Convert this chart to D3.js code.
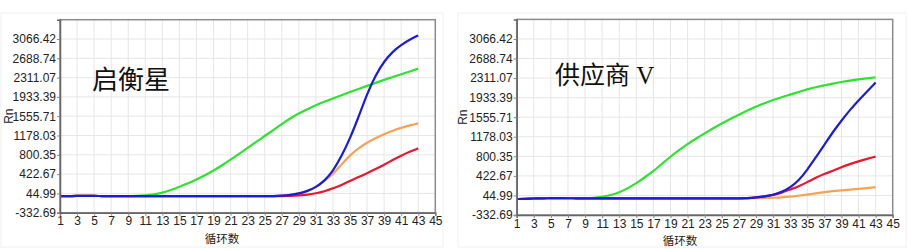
<!DOCTYPE html>
<html>
<head>
<meta charset="utf-8">
<script src="https://cdn.jsdelivr.net/npm/d3@7"></script>
<style>
  body { margin: 0; background: #fff; }
  svg { display: block; }
  .tick text { font-family: "Liberation Sans", Arial, sans-serif; font-size: 12px; fill: #222; }
</style>
</head>
<body>
<svg id="chart" width="907" height="250"></svg>
<script>
const cycles = d3.range(1, 44);
const xTicks = d3.range(1, 46, 2);
const yTicks = [-332.69, 44.99, 422.67, 800.35, 1178.03, 1555.71, 1933.39, 2311.07, 2688.74, 3066.42];

// 启衡星
const qhxBase = [-10, -8, -5, -4, -5, -7, -9, -10, -10, -10, -10, -10, -10, -10, -10, -10, -10, -10, -10, -10, -10, -10, -10, -10, -10, -10];
const qhxGreen = [-10, -8, -5, -4, -5, -7, -9, -10, -9, -5, 5, 25, 58, 110, 172, 242, 318, 400, 490, 595, 705, 818, 935, 1052, 1168, 1285, 1400, 1515, 1610, 1695, 1770, 1838, 1903, 1966, 2028, 2089, 2149, 2208, 2266, 2323, 2378, 2432, 2485];
const qhxBlue = qhxBase.concat([0, 15, 40, 90, 165, 290, 480, 770, 1120, 1540, 1990, 2360, 2630, 2820, 2950, 3055, 3137]);
const qhxOrange = qhxBase.concat([0, 15, 40, 90, 165, 290, 420, 610, 790, 930, 1040, 1125, 1205, 1270, 1330, 1378, 1415]);
const qhxRed = qhxBase.concat([-8, -5, 5, 20, 45, 85, 143, 209, 287, 365, 440, 520, 605, 700, 785, 860, 926]);

// 供应商 V
const supBase = [-25, -20, -14, -10, -8, -8, -9, -10, -10, -10, -11, -11, -11, -11, -11, -11, -11, -11, -11, -11, -11, -11, -11, -11, -11, -11, -11, -10];
const supGreen = [-25, -20, -14, -10, -8, -8, -9, -10, -9, -5, 15, 50, 100, 185, 280, 395, 515, 655, 794, 920, 1038, 1145, 1244, 1342, 1437, 1522, 1605, 1685, 1759, 1825, 1888, 1942, 1991, 2044, 2094, 2135, 2171, 2205, 2236, 2262, 2287, 2307, 2326];
const supBlue = supBase.concat([5, 25, 54, 110, 200, 330, 540, 780, 1020, 1270, 1490, 1695, 1880, 2055, 2223]);
const supRed = supBase.concat([5, 25, 54, 95, 160, 220, 300, 390, 460, 520, 590, 650, 705, 752, 794]);
const supOrange = supBase.concat([-8, -5, 0, 8, 20, 38, 60, 85, 110, 128, 144, 157, 170, 186, 202]);

const colors = { green: "#2ee32e", orange: "#f7a255", red: "#e8172f", blue: "#1b1bd8" };

const panels = [
  { title: "启衡星", frame: [1, 13, 442, 234], plot: [60, 19.7, 435.3, 212.7], titleX: 92, titleY: 89, titleSize: 26,
    rnX: 9, xlabX: 222, xlabY: 243,
    series: [["green", qhxGreen], ["orange", qhxOrange], ["red", qhxRed], ["blue", qhxBlue]] },
  { title: "供应商 V", frame: [458, 13, 448, 234], plot: [516.7, 19.4, 892.7, 215], titleX: 555, titleY: 84, titleSize: 25,
    rnX: 463, xlabX: 680, xlabY: 245,
    series: [["green", supGreen], ["orange", supOrange], ["red", supRed], ["blue", supBlue]] }
];

const svg = d3.select("#chart");

panels.forEach(p => {
  const [l, t, r, b] = p.plot;
  const g = svg.append("g");

  g.append("rect")
    .attr("x", p.frame[0]).attr("y", p.frame[1])
    .attr("width", p.frame[2]).attr("height", p.frame[3])
    .attr("fill", "none").attr("stroke", "#f0f0f0");

  const x = d3.scaleLinear().domain([1, 45]).range([l, r]);
  const y = d3.scaleLinear().domain([-332.69, 3066.42 + 377.68]).range([b, t]);

  // grid
  g.append("g").selectAll("line").data(xTicks).enter().append("line")
    .attr("x1", d => x(d)).attr("x2", d => x(d))
    .attr("y1", t).attr("y2", b)
    .attr("stroke", "#e6e6e6");
  g.append("g").selectAll("line").data(yTicks.concat([3444.10])).enter().append("line")
    .attr("x1", l).attr("x2", r)
    .attr("y1", d => y(d)).attr("y2", d => y(d))
    .attr("stroke", "#e6e6e6");

  // curves
  const line = d3.line()
    .x((d, i) => x(cycles[i]))
    .y(d => y(d))
    .curve(d3.curveBasis);

  p.series.forEach(([c, vals]) => {
    g.append("path")
      .attr("d", line(vals))
      .attr("fill", "none")
      .attr("stroke", colors[c])
      .attr("stroke-width", 2.2)
      .attr("stroke-linejoin", "round");
  });

  // frame
  g.append("rect")
    .attr("x", l).attr("y", t).attr("width", r - l).attr("height", b - t)
    .attr("fill", "none").attr("stroke", "#8c8c8c").attr("stroke-width", 1.5);

  g.append("g")
    .attr("transform", `translate(0,${b})`)
    .call(d3.axisBottom(x).tickValues(xTicks).tickSize(3).tickPadding(1).tickFormat(d3.format("d")))
    .call(a => a.select(".domain").attr("stroke", "#666").attr("stroke-width", 1.5))
    .call(a => a.selectAll(".tick line").attr("stroke", "#888"));

  g.append("g")
    .attr("transform", `translate(${l},0)`)
    .call(d3.axisLeft(y).tickValues(yTicks).tickSize(3).tickPadding(1).tickFormat(d => d.toFixed(2)))
    .call(a => a.select(".domain").attr("stroke", "#666").attr("stroke-width", 1.5))
    .call(a => a.selectAll(".tick line").attr("stroke", "#888"));

  g.append("text")
    .attr("x", p.xlabX).attr("y", p.xlabY)
    .attr("text-anchor", "middle")
    .attr("font-family", "'Noto Sans CJK SC', sans-serif")
    .attr("font-size", 11.5).attr("fill", "#222")
    .text("循环数");

  g.append("text")
    .attr("transform", `translate(${p.rnX + 4},${(t + b) / 2}) rotate(-90)`)
    .attr("text-anchor", "middle")
    .attr("font-family", "'Liberation Sans', Arial, sans-serif")
    .attr("font-size", 12).attr("fill", "#222")
    .text("Rn");

  g.append("text")
    .attr("x", p.titleX).attr("y", p.titleY)
    .attr("font-family", "'Liberation Serif', 'Noto Sans CJK SC', serif")
    .attr("font-size", p.titleSize).attr("fill", "#111")
    .text(p.title);
});
</script>
</body>
</html>
